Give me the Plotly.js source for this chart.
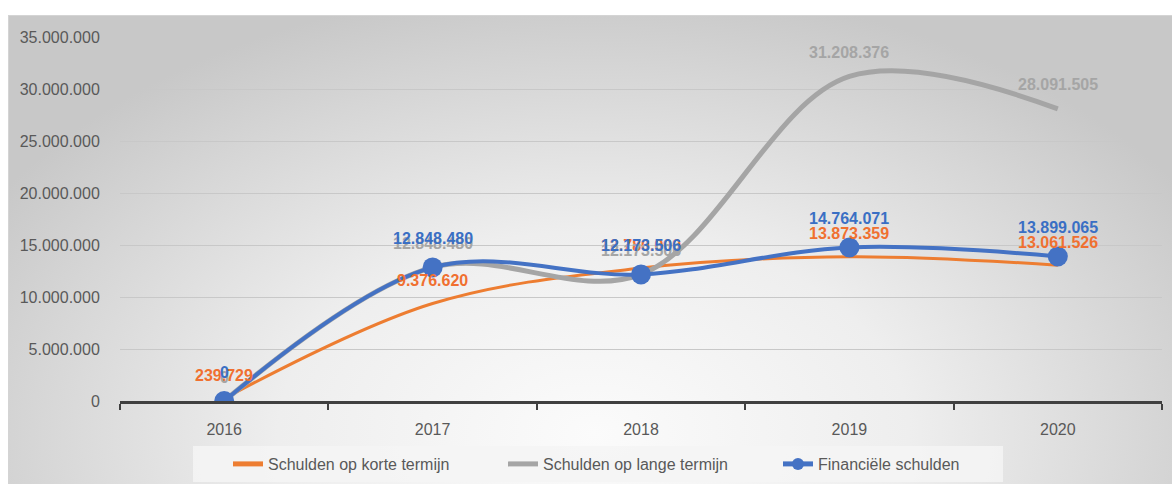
<!DOCTYPE html>
<html>
<head>
<meta charset="utf-8">
<script src="https://cdn.plot.ly/plotly-3.0.1.min.js"></script>
<style>
  html, body { margin: 0; padding: 0; background: #ffffff; }
  #wrap { position: relative; width: 1172px; height: 484px; overflow: hidden; }
  #bg { position: absolute; left: 8px; top: 15px; width: 1170px; height: 475px;
        border-top: 1px solid #d4d4d4; border-left: 1px solid #d4d4d4;
        background: radial-gradient(ellipse 60% 95% at 50% 88%, #fbfbfb 0%, #eeeeee 45%, #d6d6d6 80%, #c8c8c8 100%); }
  #chart { position: absolute; left: 0; top: 0; width: 1172px; height: 484px; }
</style>
</head>
<body>
<div id="wrap">
  <div id="bg"></div>
  <div id="chart"></div>
</div>
<script>
const years = ['2016', '2017', '2018', '2019', '2020'];
const korteTermijn = [239729, 9376620, 12780000, 13873359, 13061526];
const langeTermijn = [0, 12848480, 12173506, 31208376, 28091505];
const financieleSchulden = [0, 12848480, 12173506, 14764071, 13899065];
const yTickVals = [0, 5000000, 10000000, 15000000, 20000000, 25000000, 30000000, 35000000];
const yTickText = ['0', '5.000.000', '10.000.000', '15.000.000', '20.000.000', '25.000.000', '30.000.000', '35.000.000'];

const cOrange = '#ED7D31', cGray = '#A5A5A5', cBlue = '#4472C4';
const FONT = '"Liberation Sans", Arial, sans-serif';

function fmt(v) { return String(v).replace(/\B(?=(\d{3})+(?!\d))/g, '.'); }

const traces = [
  { x: years, y: korteTermijn, name: 'Schulden op korte termijn', mode: 'lines',
    line: { color: cOrange, width: 3, shape: 'spline', smoothing: 1 } },
  { x: years, y: langeTermijn, name: 'Schulden op lange termijn', mode: 'lines',
    line: { color: cGray, width: 5, shape: 'spline', smoothing: 1 } },
  { x: years, y: financieleSchulden, name: 'Financiële schulden', mode: 'lines+markers',
    line: { color: cBlue, width: 4, shape: 'spline', smoothing: 1 },
    marker: { color: cBlue, size: 20 } }
];

const annotations = [];
function addLabels(vals, color, shift) {
  vals.forEach((v, i) => {
    annotations.push({ x: i, y: v, xref: 'x', yref: 'y', text: '<b>' + fmt(v) + '</b>',
      showarrow: false, yshift: shift, yanchor: 'middle', xanchor: 'center',
      font: { family: FONT, size: 16, color: color } });
  });
}
addLabels(korteTermijn, '#F07030', 23);
addLabels(langeTermijn, '#A5A5A5', 24);
addLabels(financieleSchulden, '#3A6FC4', 29);

const layout = {
  width: 1172, height: 484,
  margin: { l: 120, r: 10, t: 37, b: 83 },
  paper_bgcolor: 'rgba(0,0,0,0)', plot_bgcolor: 'rgba(0,0,0,0)',
  font: { family: FONT, size: 16, color: '#595959' },
  showlegend: true,
  legend: { orientation: 'h', xref: 'container', yref: 'container',
    x: 228 / 1172, xanchor: 'left', y: 1 - 447 / 484, yanchor: 'top',
    bgcolor: 'rgba(0,0,0,0)', entrywidth: 230, entrywidthmode: 'pixels',
    itemsizing: 'constant',
    font: { family: FONT, size: 16, color: '#595959' } },
  shapes: [
    { type: 'rect', xref: 'paper', yref: 'paper', layer: 'below',
      x0: (193 - 120) / 1042, x1: (1003 - 120) / 1042,
      y0: -(482 - 401) / 364, y1: -(446 - 401) / 364,
      fillcolor: 'rgba(245,245,245,0.85)', line: { width: 0 } }
  ],
  xaxis: { type: 'category', range: [-0.5, 4.5], showgrid: false, zeroline: false,
    showline: true, linecolor: '#404040', linewidth: 3,
    ticks: 'outside', tickson: 'boundaries', ticklen: 6, tickwidth: 2, tickcolor: '#404040',
    ticklabelstandoff: 12,
    tickfont: { family: FONT, size: 16, color: '#595959' } },
  yaxis: { range: [0, 35000000], tickvals: yTickVals, ticktext: yTickText,
    showgrid: true, gridcolor: '#c8c8c8', gridwidth: 1, zeroline: false, showline: false,
    ticks: 'outside', ticklen: 16, tickcolor: 'rgba(0,0,0,0)',
    tickfont: { family: FONT, size: 16, color: '#595959' } },
  annotations: annotations
};

Plotly.newPlot('chart', traces, layout, { displayModeBar: false, staticPlot: true });
</script>
</body>
</html>
